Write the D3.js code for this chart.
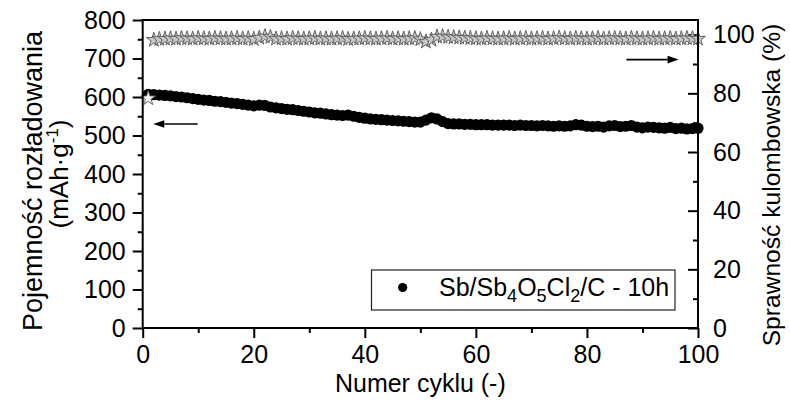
<!DOCTYPE html>
<html>
<head>
<meta charset="utf-8">
<script src="https://cdn.jsdelivr.net/npm/d3@7"></script>
<style>
  html, body { margin: 0; padding: 0; background: #fff; }
  svg { display: block; font-family: "Liberation Sans", Arial, Helvetica, sans-serif; }
</style>
</head>
<body>
<svg id="chart" width="790" height="406"></svg>
<script>
// ---- data ----
const cycles = [1,2,3,4,5,6,7,8,9,10,11,12,13,14,15,16,17,18,19,20,
  21,22,23,24,25,26,27,28,29,30,31,32,33,34,35,36,37,38,39,40,
  41,42,43,44,45,46,47,48,49,50,51,52,53,54,55,56,57,58,59,60,
  61,62,63,64,65,66,67,68,69,70,71,72,73,74,75,76,77,78,79,80,
  81,82,83,84,85,86,87,88,89,90,91,92,93,94,95,96,97,98,99,100];

const dischargeCapacity = [607,606,605,604,603,601,600,598,596,594,
  592,591,589,588,586,584,583,581,579,577,
  579,578,574,572,570,568,567,565,563,561,
  559,558,556,554,553,552,553,550,547,545,
  543,542,541,540,539,538,537,536,535,535,
  540,546,543,536,531,530,530,529,529,528,
  528,528,527,527,527,527,526,527,526,526,
  525,526,525,524,525,524,525,528,527,524,
  523,524,522,525,526,523,524,526,522,520,
  522,521,520,519,521,518,519,517,518,519];

const coulombicEfficiency = [78.3,98.2,98.5,98.6,98.7,98.6,98.8,98.7,98.6,98.8,
  98.7,98.6,98.8,98.7,98.6,98.7,98.8,98.6,98.7,98.5,
  98.9,99.4,99.2,98.6,98.7,98.6,98.8,98.7,98.6,98.7,
  98.8,98.6,98.7,98.6,98.7,98.8,98.5,98.6,98.7,98.8,
  98.7,98.6,98.7,98.8,98.6,98.7,98.6,98.7,98.8,98.4,
  97.6,98.2,99.3,99.4,99.2,99.1,99.0,98.9,98.8,98.7,
  98.6,98.8,98.7,98.6,98.7,98.8,98.6,98.7,98.8,98.6,
  98.7,98.8,98.6,98.7,98.9,98.7,98.6,98.8,98.7,98.6,
  98.7,98.8,98.6,98.7,98.8,98.7,98.6,98.8,98.7,98.6,
  98.7,98.8,98.6,98.7,98.8,98.6,98.7,98.8,98.7,98.6];

const xTicks = [0,20,40,60,80,100];
const xMinorTicks = [10,30,50,70,90];
const yLeftTicks = [0,100,200,300,400,500,600,700,800];
const yLeftMinorTicks = [50,150,250,350,450,550,650,750];
const yRightTicks = [0,20,40,60,80,100];
const yRightMinorTicks = [10,30,50,70,90];

const legendLabel = ["Sb/Sb", "4", "O", "5", "Cl", "2", "/C - 10h"];

// ---- layout ----
const W = 790, H = 406;
const plot = {left: 142.7, right: 698, top: 20, bottom: 328};
const FONT = 25;

const svg = d3.select("#chart");
svg.append("rect").attr("width", W).attr("height", H).attr("fill", "#fff");

const x = d3.scaleLinear().domain([0, 100]).range([plot.left, plot.right]);
const yL = d3.scaleLinear().domain([0, 800]).range([plot.bottom, plot.top]);
const yR = d3.scaleLinear().domain([0, 105]).range([plot.bottom, plot.top]);

function styleAxis(g) {
  g.select(".domain").remove();
  g.selectAll(".tick line").attr("stroke", "#000").attr("stroke-width", 2);
  g.selectAll(".tick text").attr("font-size", FONT).attr("fill", "#000")
    .attr("font-family", "'Liberation Sans', Arial, sans-serif");
}

// bottom axis
svg.append("g").attr("transform", `translate(0,${plot.bottom})`)
  .call(d3.axisBottom(x).tickValues(xTicks).tickSize(10).tickPadding(7).tickFormat(d3.format("d")))
  .call(styleAxis);
svg.append("g").attr("transform", `translate(0,${plot.bottom})`)
  .call(d3.axisBottom(x).tickValues(xMinorTicks).tickSize(5).tickFormat(""))
  .call(styleAxis);

// left axis
svg.append("g").attr("transform", `translate(${plot.left},0)`)
  .call(d3.axisLeft(yL).tickValues(yLeftTicks).tickSize(10).tickPadding(7).tickFormat(d3.format("d")))
  .call(styleAxis);
svg.append("g").attr("transform", `translate(${plot.left},0)`)
  .call(d3.axisLeft(yL).tickValues(yLeftMinorTicks).tickSize(5).tickFormat(""))
  .call(styleAxis);

// right axis (ticks inward)
svg.append("g").attr("transform", `translate(${plot.right},0)`)
  .call(d3.axisRight(yR).tickValues(yRightTicks).tickSizeInner(-10).tickSizeOuter(0).tickPadding(15).tickFormat(d3.format("d")))
  .call(styleAxis);
svg.append("g").attr("transform", `translate(${plot.right},0)`)
  .call(d3.axisRight(yR).tickValues(yRightMinorTicks).tickSizeInner(-5).tickSizeOuter(0).tickFormat(""))
  .call(styleAxis);

// data: discharge capacity (black circles)
svg.append("g").selectAll("circle")
  .data(cycles.map((c, i) => ({c, v: dischargeCapacity[i]})))
  .join("circle")
  .attr("cx", d => x(d.c))
  .attr("cy", d => yL(d.v))
  .attr("r", 5.6)
  .attr("fill", "#000");

// data: coulombic efficiency (grey stars)
const star = d3.symbol().type(d3.symbolStar).size(68);
svg.append("g").selectAll("path")
  .data(cycles.map((c, i) => ({c, v: coulombicEfficiency[i]})))
  .join("path")
  .attr("d", star)
  .attr("transform", d => `translate(${x(d.c)},${yR(d.v)})`)
  .attr("fill", d => d.c === 1 ? "#f2f2f2" : "#c8c8c8")
  .attr("stroke", "#555")
  .attr("stroke-width", 0.9);

// frame
svg.append("rect")
  .attr("x", plot.left).attr("y", plot.top)
  .attr("width", plot.right - plot.left).attr("height", plot.bottom - plot.top)
  .attr("fill", "none").attr("stroke", "#000").attr("stroke-width", 2);

// arrows
function arrow(x1, x2, y) {
  const dir = Math.sign(x2 - x1);
  const head = 11;
  svg.append("line").attr("x1", x1).attr("x2", x2 - dir * head).attr("y1", y).attr("y2", y)
    .attr("stroke", "#000").attr("stroke-width", 1.6);
  svg.append("path")
    .attr("d", `M${x2},${y} L${x2 - dir * head},${y - 3.8} L${x2 - dir * head},${y + 3.8} Z`)
    .attr("fill", "#000");
}
arrow(x(9.9), x(1.9), yL(530));
arrow(x(87.1), x(96.5), yR(91.5));

// legend
const lg = svg.append("g");
lg.append("rect").attr("x", 371.5).attr("y", 270).attr("width", 303.5).attr("height", 40)
  .attr("fill", "#fff").attr("stroke", "#222").attr("stroke-width", 1.2);
lg.append("circle").attr("cx", 402.7).attr("cy", 287.5).attr("r", 4.6).attr("fill", "#000");
const lt = lg.append("text").attr("x", 439).attr("y", 296).attr("font-size", FONT).attr("fill", "#000");
legendLabel.forEach((s, i) => {
  const sub = i % 2 === 1;
  lt.append("tspan").text(s)
    .attr("font-size", sub ? 18 : FONT)
    .attr("dy", sub ? 6 : (i > 0 ? -6 : 0));
});

// axis titles
svg.append("text").attr("x", x(50)).attr("y", 392).attr("text-anchor", "middle")
  .attr("font-size", FONT).text("Numer cyklu (-)");

svg.append("text").attr("transform", "translate(42,181) rotate(-90)").attr("text-anchor", "middle")
  .attr("font-size", 27).text("Pojemność rozładowania");

const t2 = svg.append("text").attr("transform", "translate(68,174) rotate(-90)").attr("text-anchor", "middle")
  .attr("font-size", 26);
t2.append("tspan").text("(mAh·g");
t2.append("tspan").text("-1").attr("font-size", 17).attr("dy", -10);
t2.append("tspan").text(")").attr("dy", 10);

svg.append("text").attr("transform", "translate(780,185) rotate(-90)").attr("text-anchor", "middle")
  .attr("font-size", 24.6).text("Sprawność kulombowska (%)");
</script>
</body>
</html>
